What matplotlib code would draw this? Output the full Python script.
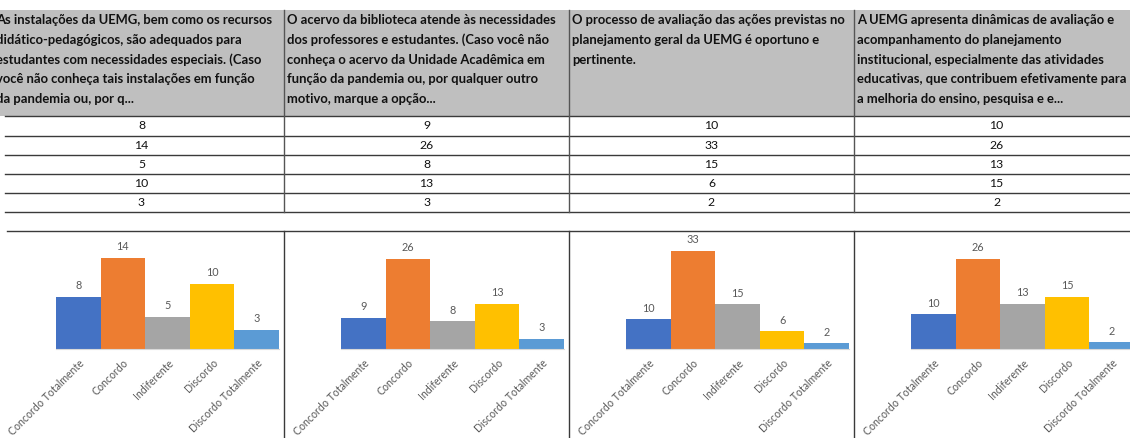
import matplotlib.pyplot as plt
from matplotlib.patches import Rectangle

# dados
categorias = ['Concordo Totalmente', 'Concordo', 'Indiferente', 'Discordo', 'Discordo Totalmente']
q_instalacoes = [8, 14, 5, 10, 3]
q_acervo = [9, 26, 8, 13, 3]
q_avaliacao = [10, 33, 15, 6, 2]
q_dinamicas = [10, 26, 13, 15, 2]
series = [q_instalacoes, q_acervo, q_avaliacao, q_dinamicas]

perguntas = [
    ['As instalações da UEMG, bem como os recursos',
     'didático-pedagógicos, são adequados para',
     'estudantes com necessidades especiais. (Caso',
     'você não conheça tais instalações em função',
     'da pandemia ou, por q...'],
    ['O acervo da biblioteca atende às necessidades',
     'dos professores e estudantes. (Caso você não',
     'conheça o acervo da Unidade Acadêmica em',
     'função da pandemia ou, por qualquer outro',
     'motivo, marque a opção...'],
    ['O processo de avaliação das ações previstas no',
     'planejamento geral da UEMG é oportuno e',
     'pertinente.'],
    ['A UEMG apresenta dinâmicas de avaliação e',
     'acompanhamento do planejamento',
     'institucional, especialmente das atividades',
     'educativas, que contribuem efetivamente para',
     'a melhoria do ensino, pesquisa e e...'],
]

cores = ['#4472C4', '#ED7D31', '#A5A5A5', '#FFC000', '#5B9BD5']
eixo_max = [16, 30, 35, 30]

W, H = 1130, 438
fig = plt.figure(figsize=(W / 100, H / 100), dpi=100)
plt.rcParams['font.family'] = ['Lato', 'DejaVu Sans']

bg = fig.add_axes([0, 0, 1, 1])
bg.set_xlim(0, W)
bg.set_ylim(H, 0)
bg.axis('off')

col_w = 285
col_x0 = [-1 + i * col_w for i in range(4)]
linha = '#3a3a3a'

# cabeçalho cinza
bg.add_patch(Rectangle((0, 10), W, 106, facecolor='#bfbfbf', edgecolor='none'))
for i, texto in enumerate(perguntas):
    x = col_x0[i] + 3 if i > 0 else -4
    for j, t in enumerate(texto):
        bg.text(x, 20.5 + j * 19.6, t, fontsize=9.4, fontweight='bold',
                va='center', ha='left', color='#111111')

# linhas da tabela
linhas_y = [116, 135.5, 155, 174, 193, 212]
for y in linhas_y:
    bg.plot([5, W], [y, y], color=linha, lw=1)
for x in [284, 569, 854]:
    bg.plot([x, x], [10, 212], color='#555555', lw=1)

for i, vals in enumerate(series):
    cx = col_x0[i] + col_w / 2
    for j, v in enumerate(vals):
        yc = (linhas_y[j] + linhas_y[j + 1]) / 2
        bg.text(cx, yc, str(v), fontsize=8.8, ha='center', va='center', color='#111111')

# bordas dos gráficos
bg.plot([7, W], [231, 231], color=linha, lw=1)
for x in [284, 569, 854]:
    bg.plot([x, x], [231, H], color=linha, lw=1)

# gráficos de barras
base_y = 349
altura = 104
for i, vals in enumerate(series):
    left = 56 + i * col_w
    ax = fig.add_axes([left / W, (H - base_y) / H, 223 / W, altura / H])
    ax.patch.set_alpha(0)
    barras = ax.bar(range(len(categorias)), vals, width=1.0, color=cores)
    ax.set_xlim(-0.5, 4.5)
    ax.set_ylim(0, eixo_max[i])
    for s in ['top', 'left', 'right']:
        ax.spines[s].set_visible(False)
    ax.spines['bottom'].set_color('#d9d9d9')
    ax.set_yticks([])
    ax.set_xticks(range(len(categorias)))
    ax.set_xticklabels(categorias, rotation=45, ha='right', rotation_mode='anchor',
                       fontsize=7.6, color='#595959')
    ax.tick_params(axis='x', length=0, pad=6)
    ax.bar_label(barras, padding=4, fontsize=7.8, color='#595959')

fig.savefig('out.png', dpi=100)
